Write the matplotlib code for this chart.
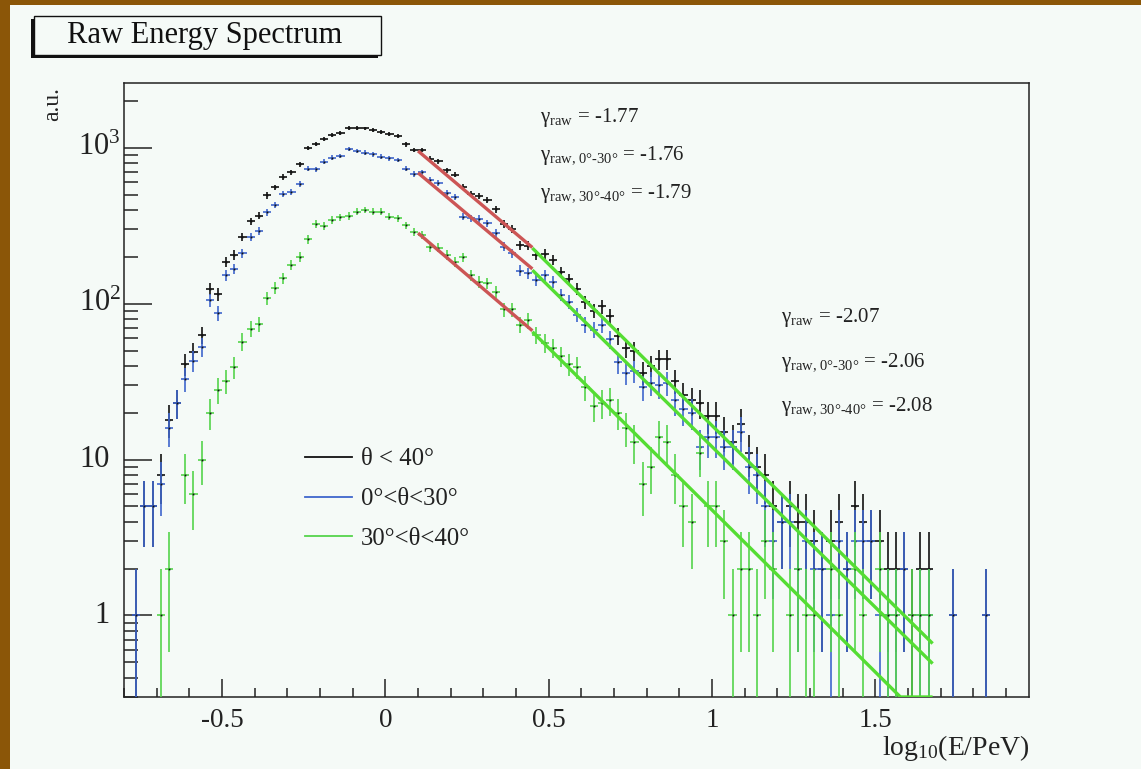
import numpy as np
import matplotlib
matplotlib.use("Agg")
import matplotlib.pyplot as plt
from matplotlib.lines import Line2D
from matplotlib.patches import Rectangle
import matplotlib.transforms as mtransforms
from matplotlib.ticker import FixedLocator, NullFormatter, MultipleLocator

plt.rcParams['font.family'] = ['Liberation Serif', 'DejaVu Serif']
plt.rcParams['mathtext.fontset'] = 'custom'
plt.rcParams['mathtext.rm'] = 'Liberation Serif'
plt.rcParams['mathtext.it'] = 'Liberation Serif:italic'
plt.rcParams['mathtext.bf'] = 'Liberation Serif:bold'

# ---------------- data ----------------
bin_low = -0.8
bin_width = 0.025

# theta < 40 deg
counts_all = [0, 1, 5, 5, 8, 18, 23, 41, 49, 63,
              125, 115, 185, 206, 268, 338, 366, 494, 557, 649,
              698, 782, 994, 1052, 1130, 1208, 1244, 1342, 1338, 1330,
              1297, 1266, 1218, 1189, 1049, 969, 971, 852, 820, 716,
              672, 559, 506, 488, 463, 402, 324, 302, 236, 235,
              205, 209, 190, 160, 144, 124, 102, 90, 96, 83,
              62, 52, 50, 36, 40, 44, 44, 32, 26, 24,
              23, 19, 19, 15, 13, 17, 11, 9, 8, 5,
              4, 5, 4, 4, 3, 2, 3, 4, 2, 5,
              4, 3, 3, 2, 2, 2, 1, 2, 2, 0,
              0, 1, 0, 0, 0, 1, 0, 0, 0, 0, 0]
# 0 deg < theta < 30 deg
counts_0_30 = [0, 1, 5, 5, 7, 16, 23, 33, 43, 53,
               105, 87, 153, 167, 211, 269, 292, 386, 431, 503,
               521, 583, 735, 728, 815, 864, 886, 977, 949, 931,
               908, 877, 857, 836, 731, 679, 695, 622, 592, 511,
               486, 361, 353, 350, 328, 283, 232, 210, 163, 157,
               142, 153, 138, 114, 103, 85, 73, 68, 73, 59,
               42, 36, 37, 29, 31, 30, 31, 24, 21, 20,
               12, 14, 14, 12, 12, 15, 9, 8, 5, 3,
               4, 4, 2, 3, 2, 2, 1, 3, 2, 3,
               3, 3, 1, 1, 1, 2, 0, 1, 1, 0,
               0, 1, 0, 0, 0, 1, 0, 0, 0, 0, 0]
# 30 deg < theta < 40 deg
counts_30_40 = [0, 0, 0, 0, 1, 2, 0, 8, 6, 10,
                20, 28, 32, 39, 57, 69, 74, 108, 126, 146,
                177, 199, 259, 324, 315, 344, 358, 365, 389, 399,
                389, 389, 361, 353, 318, 290, 276, 230, 228, 205,
                186, 198, 153, 138, 135, 119, 92, 92, 73, 78,
                63, 56, 52, 46, 41, 39, 29, 22, 23, 24,
                20, 16, 13, 7, 9, 14, 13, 8, 5, 4,
                11, 5, 5, 3, 1, 2, 2, 1, 3, 2,
                0, 1, 2, 1, 1, 0, 2, 1, 0, 2,
                1, 0, 2, 1, 1, 0, 1, 1, 1, 0,
                0, 0, 0, 0, 0, 0, 0, 0, 0, 0, 0]

series_labels = ["\u03b8 < 40\u00b0", "0\u00b0<\u03b8<30\u00b0", "30\u00b0<\u03b8<40\u00b0"]
series_colors = ["#111111", "#3f66cc", "#55d44c"]

# power-law fits: slope in log10 space and value at pivot log10(E)=0.45
fit_pivot = 0.45
fit_low_range = (0.1, 0.45)
fit_high_range = (0.45, 1.675)
slopes_low = [-1.77, -1.76, -1.79]
slopes_high = [-2.07, -2.06, -2.08]
norm_low = [229, 167, 67]
norm_high = [227, 164, 66]
gamma_low_text = ["-1.77", "-1.76", "-1.79"]
gamma_high_text = ["-2.07", "-2.06", "-2.08"]

x_ticks_major = [-0.5, 0, 0.5, 1, 1.5]
x_tick_labels = ["-0.5", "0", "0.5", "1", "1.5"]
y_ticks_major = [1, 10, 100, 1000]

xmin, xmax = -0.8, 1.97
ymin, ymax = 0.3, 2600

# ---------------- figure ----------------
W, H = 1141, 769
bg = "#f5faf7"
fig = plt.figure(figsize=(W / 100, H / 100), dpi=100, facecolor=bg)

def fx(px):
    return px / W

def fy(py):
    return 1 - py / H

# brown frame
fig.patches.append(Rectangle((0, 0), fx(10), 1, transform=fig.transFigure,
                             facecolor="#8b5608", edgecolor="none", zorder=0))
fig.patches.append(Rectangle((0, fy(5)), 1, 5 / H, transform=fig.transFigure,
                             facecolor="#8b5608", edgecolor="none", zorder=0))

ax = fig.add_axes([fx(124), fy(697), fx(1029 - 124), (697 - 83) / H])
ax.set_facecolor(bg)
ax.set_yscale("log")
ax.set_xlim(xmin, xmax)
ax.set_ylim(ymin, ymax)

centers = bin_low + bin_width * (np.arange(len(counts_all)) + 0.5)
for counts, col, z in zip([counts_all, counts_0_30, counts_30_40], series_colors, [3, 4, 5]):
    c = np.asarray(counts, dtype=float)
    m = c > 0
    xv = centers[m]
    yv = c[m]
    err = np.sqrt(yv)
    lo = np.minimum(err, yv - 1e-4)
    ax.errorbar(xv, yv, xerr=bin_width / 2, yerr=[lo, err], fmt="none",
                ecolor=col, elinewidth=1.2, capsize=0, zorder=z)
    ax.plot(xv, yv, ls="none", marker="s", ms=1.3, mfc="#111111", mec="none", zorder=z)

# fits
for i in range(3):
    xs = np.linspace(*fit_low_range, 50)
    ys = norm_low[i] * 10 ** (slopes_low[i] * (xs - fit_pivot))
    ax.plot(xs, ys, color="#cc5555", lw=2.4, zorder=6, solid_capstyle="butt")
    xs = np.linspace(*fit_high_range, 200)
    ys = norm_high[i] * 10 ** (slopes_high[i] * (xs - fit_pivot))
    ys = np.maximum(ys, ymin)
    ax.plot(xs, ys, color="#55dd33", lw=2.4, zorder=6, solid_capstyle="butt")

# axes styling
for s in ax.spines.values():
    s.set_linewidth(1.1)
    s.set_color("#222222")
ax.xaxis.set_major_locator(FixedLocator(x_ticks_major))
ax.xaxis.set_minor_locator(MultipleLocator(0.1))
ax.set_xticklabels(x_tick_labels)
ax.tick_params(axis="x", which="major", direction="in", length=13, width=1.1,
               labelsize=19.5, pad=8, colors="#222222", top=False)
ax.tick_params(axis="x", which="minor", direction="in", length=6.5, width=1.1,
               top=False, colors="#222222")
ax.yaxis.set_major_locator(FixedLocator(y_ticks_major))
minor_y = [m * 10.0 ** k for k in range(-1, 4) for m in range(2, 10)]
ax.yaxis.set_minor_locator(FixedLocator(minor_y))
ax.yaxis.set_major_formatter(NullFormatter())
ax.yaxis.set_minor_formatter(NullFormatter())
ax.tick_params(axis="y", which="major", direction="in", length=20, width=1.1,
               right=False, colors="#222222")
ax.tick_params(axis="y", which="minor", direction="in", length=10, width=1.1,
               right=False, colors="#222222")

# y tick labels (ROOT style)
for v in y_ticks_major:
    k = int(round(np.log10(v)))
    if k >= 2:
        txt = r"$10^{%d}$" % k
        off = -3
    else:
        txt = str(v)
        off = -14
    tr = ax.get_yaxis_transform() + mtransforms.ScaledTranslation(off / 100, 0, fig.dpi_scale_trans)
    ax.text(0, v, txt, transform=tr, ha="right", va="center", fontsize=22, color="#222222")

# axis titles
fig.text(fx(1029), fy(755), r"log$_{10}$(E/PeV)", ha="right", va="baseline",
         fontsize=20, color="#222222")
fig.text(fx(53), fy(87), "a.u.", rotation=90, ha="center", va="top",
         fontsize=17, color="#222222")

# title box with shadow
fig.patches.append(Rectangle((fx(31), fy(58)), fx(381 - 34), (55 - 16) / H,
                             transform=fig.transFigure, facecolor="#111111",
                             edgecolor="none", zorder=1))
fig.patches.append(Rectangle((fx(34), fy(55)), fx(381 - 34), (55 - 16) / H,
                             transform=fig.transFigure, facecolor=bg,
                             edgecolor="#111111", lw=1.0, zorder=2))
fig.text(fx(205), fy(35), "Raw Energy Spectrum", ha="center", va="center",
         fontsize=22, color="#111111", zorder=3)

# legend
handles = [Line2D([], [], color=c, lw=1.3) for c in series_colors]
leg = ax.legend(handles, series_labels, loc="upper left",
                bbox_to_anchor=(fx(305), fy(448)), bbox_transform=fig.transFigure,
                frameon=False, fontsize=17.8, handlelength=1.9, handletextpad=0.36,
                labelspacing=0.71, borderpad=0, borderaxespad=0)
for t in leg.get_texts():
    t.set_color("#222222")

# gamma annotations
sub_txt = [r"$_{\text{raw}}$", r"$_{\text{raw, 0°-30°}}$", r"$_{\text{raw, 30°-40°}}$"]
base_low = [122, 160, 198]
base_high = [322, 367, 411]
for i in range(3):
    fig.text(fx(540), fy(base_low[i]), "\u03b3" + sub_txt[i] + " = " + gamma_low_text[i],
             ha="left", va="baseline", fontsize=15, color="#222222")
    fig.text(fx(781), fy(base_high[i]), "\u03b3" + sub_txt[i] + " = " + gamma_high_text[i],
             ha="left", va="baseline", fontsize=15, color="#222222")

fig.savefig("out.png", dpi=100, facecolor=bg)
